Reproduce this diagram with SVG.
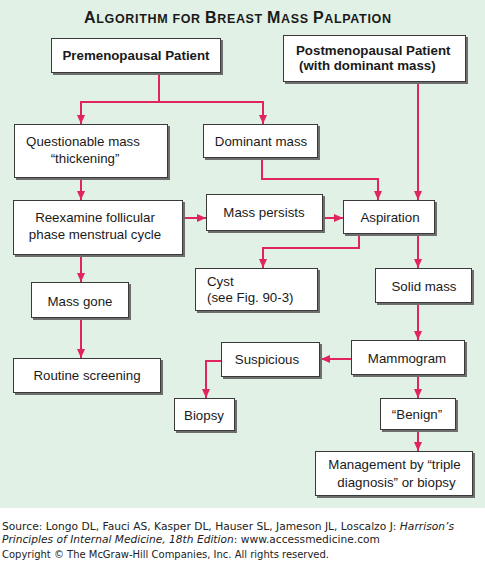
<svg xmlns="http://www.w3.org/2000/svg" width="485" height="563" viewBox="0 0 485 563">
<defs>
<marker id="ah" markerUnits="userSpaceOnUse" markerWidth="10" markerHeight="8" refX="9" refY="4" orient="auto">
<path d="M0,0 L9,4 L0,8 z" fill="#e0245e"/>
</marker>
<style>
.box{fill:#fff;stroke:#3a3a3a;stroke-width:1}
.sh{fill:#6e6e6e}
.t{font-family:"Liberation Sans",Arial,sans-serif;font-size:13.3px;fill:#1a1a1a}
.c{text-anchor:middle}
.b{font-weight:bold}
.con path{fill:none;stroke:#e0245e;stroke-width:2;marker-end:url(#ah)}
.f{font-family:"DejaVu Sans",Verdana,sans-serif;font-size:10.4px;fill:#222}
</style>
</defs>
<rect x="0" y="0" width="485" height="508" fill="#e1f1e6"/>
<rect x="0" y="508" width="485" height="55" fill="#fff"/>
<text x="237.5" y="23" text-anchor="middle" textLength="307" lengthAdjust="spacing" font-family="'Liberation Sans',Arial,sans-serif" font-weight="bold" fill="#1a1a1a"><tspan font-size="16">A</tspan><tspan font-size="12.5">LGORITHM FOR </tspan><tspan font-size="16">B</tspan><tspan font-size="12.5">REAST </tspan><tspan font-size="16">M</tspan><tspan font-size="12.5">ASS </tspan><tspan font-size="16">P</tspan><tspan font-size="12.5">ALPATION</tspan></text>

<g class="con" id="connectors">
<path d="M159,73 V102 H81 V124"/>
<path d="M159,102 H263 V124"/>
<path d="M418,82 V200"/>
<path d="M262,158 V179 H378 V200"/>
<path d="M81,178 V200"/>
<path d="M183,218 H206"/>
<path d="M323,218 H343"/>
<path d="M359,234 V248 H263 V268"/>
<path d="M418,234 V268"/>
<path d="M81,255 V282"/>
<path d="M81,318 V358"/>
<path d="M418,303 V340"/>
<path d="M351,359 H321"/>
<path d="M221,361 H206 V398"/>
<path d="M418,375 V398"/>
<path d="M418,431 V451"/>
</g>

<g id="premenopausal">
<rect class="sh" x="53" y="40" width="170" height="35"/>
<rect class="box" x="51.5" y="38.5" width="169" height="34"/>
<text class="t c b" x="136" y="60" font-size="13.5">Premenopausal Patient</text>
</g>
<g id="postmenopausal">
<rect class="sh" x="285" y="37" width="183" height="47"/>
<rect class="box" x="283.5" y="35.5" width="182" height="46"/>
<text class="t b" x="296" y="55" font-size="13.5">Postmenopausal Patient</text>
<text class="t b" x="299" y="70" font-size="13.5">(with dominant mass)</text>
</g>
<g id="questionable">
<rect class="sh" x="16" y="126" width="154" height="54"/>
<rect class="box" x="14.5" y="124.5" width="153" height="53"/>
<text class="t c" x="83" y="146">Questionable mass</text>
<text class="t c" x="85" y="163">“thickening”</text>
</g>
<g id="dominant">
<rect class="sh" x="205" y="126" width="115" height="34"/>
<rect class="box" x="203.5" y="124.5" width="114" height="33"/>
<text class="t c" x="261" y="146">Dominant mass</text>
</g>
<g id="reexamine">
<rect class="sh" x="15" y="202" width="170" height="55"/>
<rect class="box" x="13.5" y="200.5" width="169" height="54"/>
<text class="t c" x="95" y="222">Reexamine follicular</text>
<text class="t c" x="95" y="239">phase menstrual cycle</text>
</g>
<g id="masspersists">
<rect class="sh" x="208" y="196" width="117" height="37"/>
<rect class="box" x="206.5" y="194.5" width="116" height="36"/>
<text class="t c" x="264" y="217">Mass persists</text>
</g>
<g id="aspiration">
<rect class="sh" x="345" y="202" width="92" height="34"/>
<rect class="box" x="343.5" y="200.5" width="91" height="33"/>
<text class="t c" x="390" y="222">Aspiration</text>
</g>
<g id="cyst">
<rect class="sh" x="197" y="270" width="123" height="43"/>
<rect class="box" x="195.5" y="268.5" width="122" height="42"/>
<text class="t" x="207" y="286">Cyst</text>
<text class="t" x="207" y="302">(see Fig. 90-3)</text>
</g>
<g id="solidmass">
<rect class="sh" x="377" y="270" width="97" height="35"/>
<rect class="box" x="375.5" y="268.5" width="96" height="34"/>
<text class="t c" x="424" y="291">Solid mass</text>
</g>
<g id="massgone">
<rect class="sh" x="33" y="284" width="98" height="36"/>
<rect class="box" x="31.5" y="282.5" width="97" height="35"/>
<text class="t c" x="80" y="306">Mass gone</text>
</g>
<g id="routine">
<rect class="sh" x="15" y="360" width="148" height="35"/>
<rect class="box" x="13.5" y="358.5" width="147" height="34"/>
<text class="t c" x="87" y="380">Routine screening</text>
</g>
<g id="mammogram">
<rect class="sh" x="353" y="342" width="114" height="35"/>
<rect class="box" x="351.5" y="340.5" width="113" height="34"/>
<text class="t c" x="407" y="363">Mammogram</text>
</g>
<g id="suspicious">
<rect class="sh" x="223" y="344" width="99" height="35"/>
<rect class="box" x="221.5" y="342.5" width="98" height="34"/>
<text class="t c" x="267" y="364">Suspicious</text>
</g>
<g id="biopsy">
<rect class="sh" x="176" y="400" width="61" height="33"/>
<rect class="box" x="174.5" y="398.5" width="60" height="32"/>
<text class="t c" x="204" y="420">Biopsy</text>
</g>
<g id="benign">
<rect class="sh" x="382" y="400" width="76" height="32"/>
<rect class="box" x="380.5" y="398.5" width="75" height="31"/>
<text class="t c" x="417" y="419">“Benign”</text>
</g>
<g id="management">
<rect class="sh" x="317" y="453" width="158" height="45"/>
<rect class="box" x="315.5" y="451.5" width="157" height="44"/>
<text class="t c" x="394.5" y="469">Management by “triple</text>
<text class="t c" x="396.5" y="487">diagnosis” or biopsy</text>
</g>

<text class="f" x="2" y="530" textLength="452" lengthAdjust="spacingAndGlyphs">Source: Longo DL, Fauci AS, Kasper DL, Hauser SL, Jameson JL, Loscalzo J: <tspan font-style="italic">Harrison’s</tspan></text>
<text class="f" x="2" y="543" textLength="378" lengthAdjust="spacingAndGlyphs"><tspan font-style="italic">Principles of Internal Medicine, 18th Edition</tspan>: www.accessmedicine.com</text>
<text class="f" x="2" y="558" textLength="327" lengthAdjust="spacingAndGlyphs">Copyright © The McGraw-Hill Companies, Inc. All rights reserved.</text>
</svg>
